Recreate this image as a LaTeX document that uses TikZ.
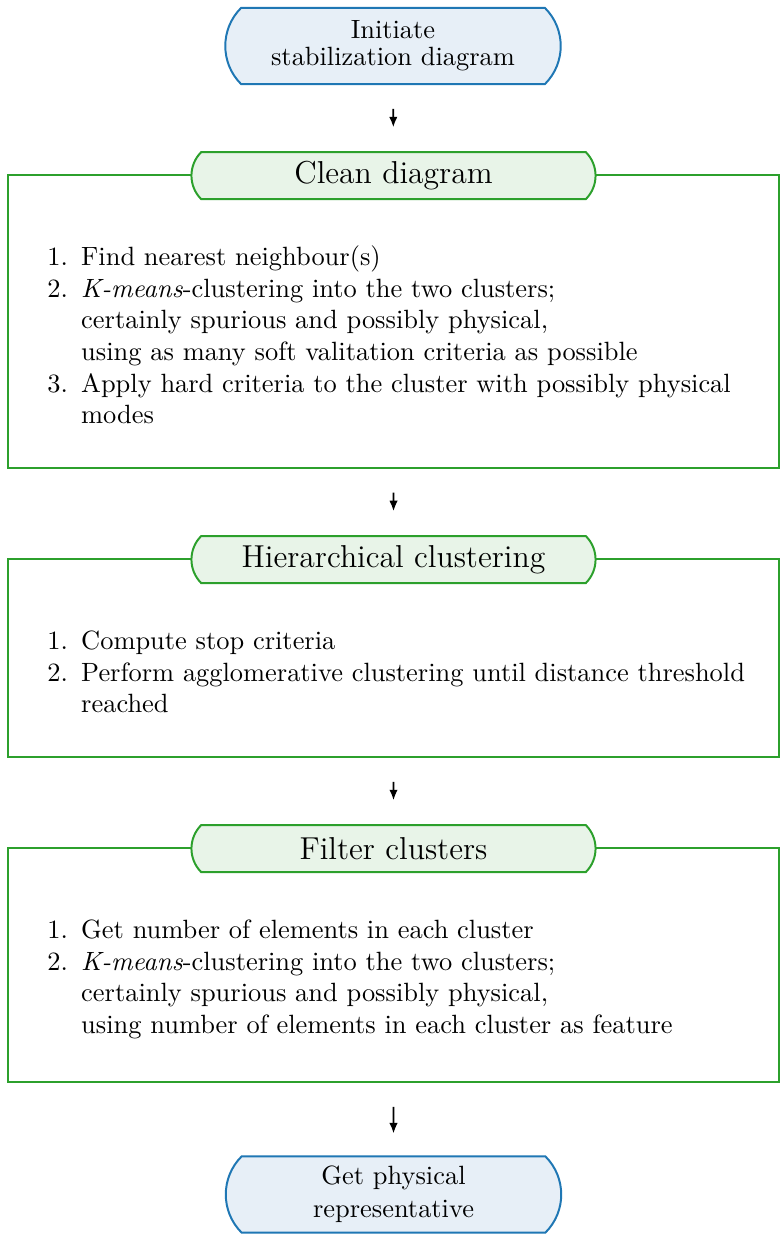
\documentclass[tikz,border=0pt]{standalone}
\usetikzlibrary{shapes.misc,arrows.meta}
\definecolor{bstroke}{RGB}{31,119,180}
\definecolor{bfill}{RGB}{231,239,247}
\definecolor{gstroke}{RGB}{44,160,44}
\definecolor{gfill}{RGB}{232,244,232}
\newcommand\litem[1]{\par\noindent\hangindent=24.5pt\hangafter=1\makebox[24.5pt][r]{#1\hspace{5pt}}}
\newenvironment{steplist}{\begin{minipage}[t]{285pt}\raggedright}{\end{minipage}}
\begin{document}
\begin{tikzpicture}[x=0.3786pt,y=-0.3786pt,
  term/.style={rounded rectangle, rounded rectangle arc length=90, draw=bstroke, fill=bfill,
    line width=0.75pt, align=center, minimum width=127pt, minimum height=28.8pt, inner sep=0pt},
  ttl/.style={rounded rectangle, rounded rectangle arc length=90, draw=gstroke, fill=gfill,
    line width=0.75pt, minimum width=153pt, minimum height=17.8pt, inner sep=0pt, font=\large},
  panel/.style={rectangle, draw=gstroke, line width=0.75pt, minimum width=291.9pt, inner sep=0pt},
  lst/.style={anchor=base west, inner sep=0pt},
  flow/.style={-{Latex[length=4pt,width=3.2pt]}, line width=0.7pt}]
\useasboundingbox (0,0) rectangle (780,1234);
\node[term] (start) at (393,46) {Initiate\\[-1.8pt]stabilization diagram};
\node[panel, minimum height=110.9pt] (p1) at (393.5,321.5) {};
\node[ttl] (t1) at ([yshift=-0.6pt]p1.north) {Clean diagram};
\node[lst] (l1) at (16,265.5) {\begin{steplist}
\litem{1.}Find nearest neighbour(s)
\litem{2.}\textit{K-means}-clustering into the two clusters;\newline
certainly spurious and possibly physical,\newline
using as many soft valitation criteria as possible
\litem{3.}Apply hard criteria to the cluster with possibly physical modes
\end{steplist}};
\node[panel, minimum height=75pt] (p2) at (393.5,658) {};
\node[ttl] (t2) at ([yshift=-0.6pt]p2.north) {Hierarchical clustering};
\node[lst] (l2) at (16,649.5) {\begin{steplist}
\litem{1.}Compute stop criteria
\litem{2.}Perform agglomerative clustering until distance threshold reached
\end{steplist}};
\node[panel, minimum height=88.6pt] (p3) at (393.5,965) {};
\node[ttl] (t3) at ([yshift=-0.6pt]p3.north) {Filter clusters};
\node[lst] (l3) at (16,938.5) {\begin{steplist}
\litem{1.}Get number of elements in each cluster
\litem{2.}\textit{K-means}-clustering into the two clusters;\newline
certainly spurious and possibly physical,\newline
using number of elements in each cluster as feature
\end{steplist}};
\node[term] (end) at (393.5,1194.5) {Get physical\\[0.4pt]representative};
\draw[flow, shorten <=9pt, shorten >=9pt] (start) -- (t1);
\draw[flow, shorten <=9pt, shorten >=9pt] (p1) -- (t2);
\draw[flow, shorten <=9pt, shorten >=9pt] (p2) -- (t3);
\draw[flow, shorten <=9pt, shorten >=8.3pt] (p3) -- (end);
\end{tikzpicture}
\end{document}
